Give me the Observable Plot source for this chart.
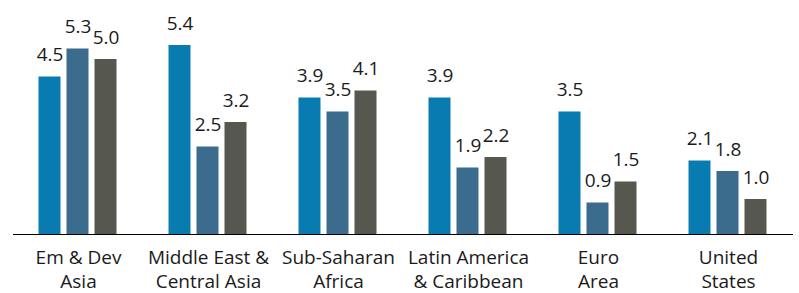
<!DOCTYPE html>
<html>
<head>
<meta charset="utf-8">
<script src="https://cdn.jsdelivr.net/npm/d3@7"></script>
<script src="https://cdn.jsdelivr.net/npm/@observablehq/plot@0.6"></script>
<style>
  html, body { margin: 0; padding: 0; background: #fff; }
  svg { display: block; }
</style>
</head>
<body>
<div id="chart"></div>
<script>
const categories = ["Em & Dev\nAsia", "Middle East &\nCentral Asia", "Sub-Saharan\nAfrica", "Latin America\n& Caribbean", "Euro\nArea", "United\nStates"];
const seriesNames = ["Series 1", "Series 2", "Series 3"];
const series1 = [4.5, 5.4, 3.9, 3.9, 3.5, 2.1];
const series2 = [5.3, 2.5, 3.5, 1.9, 0.9, 1.8];
const series3 = [5.0, 3.2, 4.1, 2.2, 1.5, 1.0];
const colors = ["#087cb1", "#3b6b8d", "#56574f"];

const data = [];
[series1, series2, series3].forEach((vals, si) => {
  vals.forEach((v, ci) => data.push({category: categories[ci], series: seriesNames[si], value: v}));
});

const chart = Plot.plot({
  width: 799,
  height: 293,
  marginTop: 24,
  marginBottom: 59,
  marginLeft: 12.5,
  marginRight: 6,
  style: {fontFamily: "'Open Sans', sans-serif", color: "#1a1a1a", background: "#fff", overflow: "visible"},
  fx: {domain: categories, padding: 0, label: null},
  x: {domain: seriesNames, paddingInner: 0.207, paddingOuter: 0.845, axis: null},
  y: {domain: [0, 6], axis: null},
  color: {domain: seriesNames, range: colors},
  marks: [
    Plot.barY(data, {fx: "category", x: "series", y: "value", fill: "series"}),
    Plot.text(data, {fx: "category", x: "series", y: "value", text: d => d.value.toFixed(1), dy: -22, lineAnchor: "middle", fontSize: 19, fill: "#1a1a1a"}),
    Plot.ruleY([0], {stroke: "#000", strokeWidth: 1.2}),
    Plot.axisFx({anchor: "bottom", tickSize: 0, tickPadding: 12, fontSize: 19, lineHeight: 1.263, label: null, fill: "#1a1a1a"})
  ]
});
document.getElementById("chart").appendChild(chart);
</script>
</body>
</html>
